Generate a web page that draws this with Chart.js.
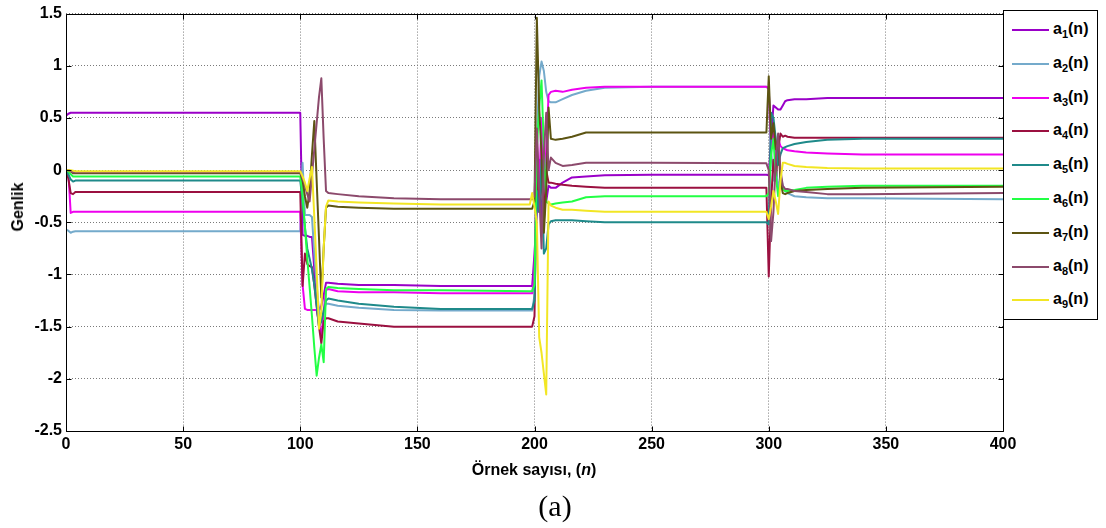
<!DOCTYPE html>
<html>
<head>
<meta charset="utf-8">
<script src="https://cdn.jsdelivr.net/npm/chart.js@4.4.1/dist/chart.umd.min.js"></script>
<style>
  body { margin: 0; background: #fff; }
  #wrap { position: relative; width: 1106px; height: 528px; font-family: Arial, "Liberation Sans", sans-serif; }
  #c { position: absolute; left: 0; top: 0; }
  .ylab { position: absolute; left: 18px; top: 207px; transform: translate(-50%, -50%) rotate(-90deg); font-weight: bold; font-size: 16px; }
  .xlab { position: absolute; left: 534px; top: 470px; transform: translate(-50%, -50%); font-weight: bold; font-size: 16px; white-space: nowrap; }
  .cap { position: absolute; left: 555px; top: 506px; transform: translate(-50%, -50%); font-family: "Times New Roman", "Liberation Serif", serif; font-size: 30px; }
  #legend { position: absolute; left: 1003px; top: 10px; width: 95px; height: 310px; box-sizing: border-box; border: 1px solid #000; background: #fff; }
  .item { position: absolute; left: 0; height: 24px; width: 92px; }
  .item .ln { position: absolute; left: 8px; top: 11px; width: 37px; height: 2px; }
  .item .tx { position: absolute; left: 49px; top: 2px; font-weight: bold; font-size: 16px; white-space: nowrap; }
  .item sub { font-size: 11px; vertical-align: -4px; }
</style>
</head>
<body>
<div id="wrap">
  <canvas id="c" width="1106" height="528"></canvas>
  <div class="ylab">Genlik</div>
  <div class="xlab">Örnek sayısı, (<i>n</i>)</div>
  <div class="cap">(a)</div>
  <div id="legend"></div>
</div>
<script>
const sampleN = [0, 1, 2, 3, 4,
  100, 101, 102, 103, 104, 105, 106, 107, 108, 109, 110, 111, 112,
  116, 125, 140, 160, 198, 199,
  200, 201, 202, 203, 204, 205, 206, 207,
  209, 212, 216, 222, 230, 250, 299,
  300, 301, 302, 303, 304, 305, 306, 307, 308,
  311, 316, 325, 340, 400];

const a1 = [0.52, 0.54, 0.55, 0.55, 0.55,
  0.55, -0.62, -0.63, -0.63, -0.64, -0.64, -0.95, -1.2, -1.35, -1.3, -1.2, -1.08, -1.08,
  -1.09, -1.10, -1.10, -1.11, -1.11, -1.11,
  -0.8, -0.4, 0.1, -0.5, -0.1, -0.3, -0.15, -0.17,
  -0.17, -0.12, -0.07, -0.06, -0.05, -0.045, -0.045,
  -0.05, 0.3, 0.62, 0.6, 0.58, 0.58, 0.62, 0.66, 0.67,
  0.68, 0.68, 0.69, 0.69, 0.69];
const a2 = [-0.57, -0.58, -0.60, -0.59, -0.585,
  -0.585, 0.07, -0.43, -0.43, -0.43, -0.45, -0.8, -1.1, -1.35, -1.45, -1.35, -1.28, -1.28,
  -1.30, -1.32, -1.34, -1.345, -1.345, -1.345,
  -1.2, 0.3, 0.9, 1.04, 0.95, 0.75, 0.66, 0.65,
  0.65, 0.68, 0.72, 0.76, 0.79, 0.80, 0.80,
  0.78, 0.2, -0.1, 0.1, -0.2, -0.05, -0.15, -0.2, -0.22,
  -0.25, -0.26, -0.27, -0.27, -0.28];
const a3 = [0, -0.02, -0.41, -0.40, -0.40,
  -0.40, -1.1, -1.33, -1.34, -1.34, -1.34, -1.34, -1.34, -1.45, -1.6, -1.35, -1.15, -1.14,
  -1.16, -1.17, -1.17, -1.18, -1.18, -1.18,
  -1.0, 0.3, -0.2, 0.5, -0.3, 0.2, 0.72, 0.75,
  0.76, 0.75, 0.77, 0.79, 0.80, 0.80, 0.80,
  0.78, 0.2, 0.4, 0.1, 0.3, 0.23, 0.21, 0.2, 0.19,
  0.18, 0.17, 0.16, 0.15, 0.15];
const a4 = [0, -0.08, -0.22, -0.23, -0.21,
  -0.21, -1.11, -0.8, -0.9, -0.92, -0.93, -1.1, -1.3, -1.5, -1.66, -1.45, -1.42, -1.42,
  -1.45, -1.47, -1.50, -1.50, -1.50, -1.50,
  -1.4, 0.1, -0.4, 0.0, -0.5, 0.0, -0.12, -0.12,
  -0.13, -0.14, -0.15, -0.16, -0.17, -0.17, -0.17,
  -1.02, -0.3, 0.1, -0.1, 0.2, 0.35, 0.32, 0.33, 0.32,
  0.31, 0.31, 0.31, 0.31, 0.31];
const a5 = [0, -0.04, -0.09, -0.11, -0.10,
  -0.10, -0.3, -0.55, -0.75, -0.85, -0.95, -1.1, -1.3, -1.5, -1.45, -1.35, -1.25, -1.23,
  -1.25, -1.28, -1.31, -1.33, -1.33, -1.33,
  -1.25, -0.2, -0.4, 0.1, -0.8, -0.75, -0.52, -0.49,
  -0.48, -0.48, -0.48, -0.49, -0.50, -0.50, -0.50,
  -0.52, 0.55, 0.5, 0.3, 0.05, 0.15, 0.21, 0.22, 0.23,
  0.25, 0.27, 0.29, 0.30, 0.30];
const a6 = [0, -0.01, -0.04, -0.06, -0.06,
  -0.06, -0.25, -0.54, -0.85, -1.12, -1.4, -1.7, -1.97, -1.8, -1.67, -1.84, -1.14, -1.12,
  -1.13, -1.14, -1.15, -1.15, -1.16, -1.16,
  -1.1, 0.2, 0.6, 0.86, 0.2, -0.3, -0.32, -0.33,
  -0.32, -0.31, -0.30, -0.26, -0.25, -0.25, -0.25,
  -0.22, 0.15, 0.3, -0.05, -0.25, -0.1, -0.18, -0.2, -0.2,
  -0.19, -0.17, -0.16, -0.15, -0.15];
const a7 = [0, 0, -0.01, -0.03, -0.03,
  -0.03, -0.1, -0.25, -0.36, -0.2, 0.15, 0.47, -0.1, -0.65, -1.22, -0.75, -0.36, -0.34,
  -0.35, -0.36, -0.37, -0.37, -0.37, -0.37,
  -0.3, 1.46, 0.6, 0.16, -0.6, -0.2, 0.6, 0.3,
  0.29, 0.30, 0.32, 0.36, 0.36, 0.36, 0.36,
  0.9, 0.3, 0.45, 0.2, 0.3, -0.1, -0.22, -0.23, -0.22,
  -0.2, -0.19, -0.18, -0.17, -0.16];
const a8 = [0, 0, -0.01, -0.02, -0.02,
  -0.02, -0.08, -0.15, -0.23, -0.3, -0.05, 0.2, 0.45, 0.7, 0.88, 0.3, -0.2, -0.22,
  -0.23, -0.25, -0.27, -0.28, -0.28, -0.28,
  -0.25, 0.4, -0.2, -0.75, 0.15, 0.55, 0.0, 0.12,
  0.07, 0.04, 0.05, 0.07, 0.07, 0.07, 0.065,
  0.0, -0.68, -0.4, 0.1, 0.35, 0.0, -0.15, -0.18, -0.18,
  -0.2, -0.21, -0.23, -0.23, -0.22];
const a9 = [0, 0, 0, -0.005, -0.01,
  -0.01, -0.06, -0.12, -0.2, -0.08, 0.03, -0.45, -0.95, -1.52, -1.35, -0.75, -0.35, -0.29,
  -0.30, -0.31, -0.32, -0.33, -0.33, -0.22,
  -0.35, -0.5, -1.6, -1.75, -1.95, -2.15, -0.3, -0.34,
  -0.36, -0.38, -0.38, -0.39, -0.40, -0.40, -0.40,
  -0.47, -0.35, -0.2, -0.3, -0.42, -0.1, 0.07, 0.07, 0.06,
  0.04, 0.03, 0.02, 0.015, 0.015];

const seriesIdx = ['1', '2', '3', '4', '5', '6', '7', '8', '9'];
const seriesColors = ['#9a00c8', '#74aacb', '#ee00ee', '#9b1040', '#1f8a8a', '#22ff44', '#5c5412', '#8c4a6c', '#f2e624'];
const xTicks = [0, 50, 100, 150, 200, 250, 300, 350, 400];
const yTicks = [1.5, 1, 0.5, 0, -0.5, -1, -1.5, -2, -2.5];

const allSeries = [a1, a2, a3, a4, a5, a6, a7, a8, a9];

// legend (html so the subscripts are real text)
const leg = document.getElementById('legend');
seriesIdx.forEach((s, i) => {
    const row = document.createElement('div');
    row.className = 'item';
    row.style.top = (7 + i * 33.8) + 'px';
    row.innerHTML = `<div class="ln" style="background:${seriesColors[i]}"></div><div class="tx">a<sub>${s}</sub>(n)</div>`;
    leg.appendChild(row);
});

// box + inward ticks, matlab style
const frame = {
    id: 'frame',
    afterDraw(chart) {
        const { ctx, chartArea: a, scales: { x, y } } = chart;
        ctx.save();
        ctx.strokeStyle = '#000';
        ctx.lineWidth = 1;
        ctx.beginPath();
        const L = Math.round(a.left) + 0.5, R = Math.round(a.right) + 0.5;
        const T = Math.round(a.top) + 0.5, B = Math.round(a.bottom) + 0.5;
        ctx.rect(L, T, R - L, B - T);
        xTicks.forEach(v => {
            const px = Math.round(x.getPixelForValue(v)) + 0.5;
            ctx.moveTo(px, B); ctx.lineTo(px, B - 5);
            ctx.moveTo(px, T); ctx.lineTo(px, T + 5);
        });
        yTicks.forEach(v => {
            const py = Math.round(y.getPixelForValue(v)) + 0.5;
            ctx.moveTo(L, py); ctx.lineTo(L + 5, py);
            ctx.moveTo(R, py); ctx.lineTo(R - 5, py);
        });
        ctx.stroke();
        ctx.restore();
    }
};

const tickFont = { family: 'Arial, "Liberation Sans", sans-serif', size: 16, weight: 'bold' };

new Chart(document.getElementById('c'), {
    type: 'line',
    data: {
        datasets: allSeries.map((vals, i) => ({
            label: 'a' + seriesIdx[i] + '(n)',
            data: sampleN.map((n, k) => ({ x: n, y: vals[k] })),
            borderColor: seriesColors[i],
            borderWidth: 2,
            borderJoinStyle: 'round',
            pointRadius: 0,
            tension: 0,
            order: 9 - i,
        })),
    },
    options: {
        responsive: false,
        animation: false,
        devicePixelRatio: 1,
        layout: { padding: { left: 0, right: 103, top: 11, bottom: 0 } },
        plugins: { legend: { display: false }, tooltip: { enabled: false } },
        scales: {
            x: {
                type: 'linear', min: 0, max: 400,
                afterFit: s => { s.height = 97; },
                afterBuildTicks: s => { s.ticks = xTicks.map(v => ({ value: v })); },
                ticks: { font: tickFont, color: '#000', padding: 4, autoSkip: false, maxRotation: 0, callback: v => String(v) },
                grid: { color: '#7a7a7a', lineWidth: 1, drawTicks: false },
                border: { display: false, dash: [1, 2] },
            },
            y: {
                min: -2.5, max: 1.5,
                afterFit: s => { s.width = 66; },
                afterBuildTicks: s => { s.ticks = yTicks.map(v => ({ value: v })); },
                ticks: { font: tickFont, color: '#000', padding: 4, autoSkip: false, callback: v => String(v) },
                grid: { color: '#7a7a7a', lineWidth: 1, drawTicks: false },
                border: { display: false, dash: [1, 2] },
            },
        },
    },
    plugins: [frame],
});
</script>
</body>
</html>
